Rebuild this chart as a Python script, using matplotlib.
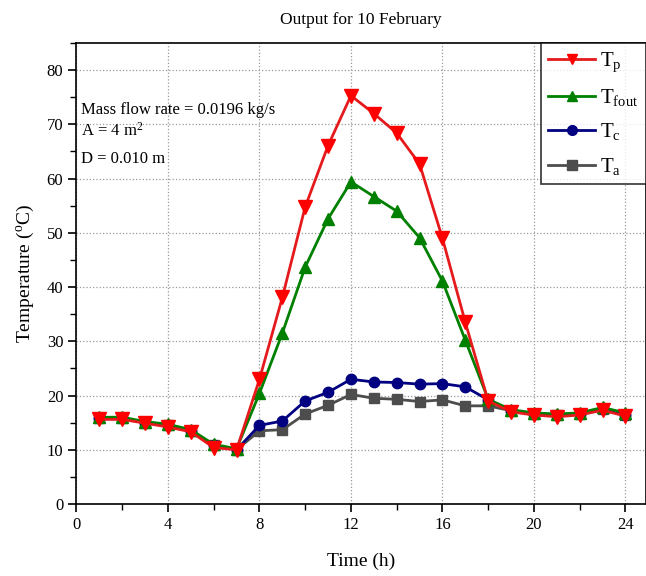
import matplotlib
matplotlib.use("Agg")
import matplotlib.pyplot as plt
from matplotlib.ticker import MultipleLocator

plt.rcParams['font.family'] = ['Liberation Serif', 'DejaVu Serif']
plt.rcParams['mathtext.fontset'] = 'custom'
plt.rcParams['mathtext.rm'] = 'Liberation Serif'
plt.rcParams['mathtext.it'] = 'Liberation Serif'

###############################################

hours = list(range(1, 25))

t_p = [15.6, 15.6, 14.9, 14.2, 13.3, 10.4, 10.0, 23.0, 38.1, 54.8, 66.1, 75.3,
       72.0, 68.4, 62.7, 49.0, 33.5, 19.0, 17.0, 16.4, 16.1, 16.4, 17.3, 16.2]
t_fout = [16.0, 16.0, 15.2, 14.7, 13.7, 11.0, 10.2, 20.4, 31.5, 43.7, 52.6, 59.4,
          56.7, 54.0, 49.1, 41.1, 30.2, 19.3, 17.4, 16.8, 16.6, 16.8, 17.8, 16.8]
t_c = [15.8, 15.8, 15.0, 14.5, 13.5, 10.8, 10.0, 14.5, 15.3, 19.0, 20.6, 23.0,
       22.5, 22.4, 22.1, 22.2, 21.6, 19.2, 17.2, 16.6, 16.4, 16.6, 17.6, 16.5]
t_a = [15.8, 15.8, 15.0, 14.5, 13.5, 10.8, 10.0, 13.5, 13.7, 16.6, 18.2, 20.2,
       19.5, 19.3, 18.9, 19.2, 18.1, 18.1, 17.2, 16.6, 16.4, 16.6, 17.6, 16.5]

###############################################

fig = plt.figure(figsize=(6.46, 5.76), dpi=100)
ax = fig.add_axes([0.1184, 0.125, 0.8816, 0.8003])

ax.plot(hours, t_a, color="#4d4d4d", marker="s", markersize=7, lw=2, label=r"T$_\mathregular{a}$", zorder=3)
ax.plot(hours, t_c, color="#000080", marker="o", markersize=7.5, lw=2, label=r"T$_\mathregular{c}$", zorder=4)
ax.plot(hours, t_fout, color="#008000", marker="^", markersize=9, lw=2, label=r"T$_\mathregular{fout}$", zorder=5)
ax.plot(hours, t_p, color="#e41a1c", marker="v", markersize=9.5, lw=2, mfc="#ff0000", mec="#ff0000",
        label=r"T$_\mathregular{p}$", zorder=6)

ax.set_xlim(0, 24.9)
ax.set_ylim(0, 85)
ax.xaxis.set_major_locator(MultipleLocator(4))
ax.xaxis.set_minor_locator(MultipleLocator(2))
ax.yaxis.set_major_locator(MultipleLocator(10))
ax.yaxis.set_minor_locator(MultipleLocator(5))
ax.tick_params(which="major", direction="out", length=6, width=1.2, labelsize=12)
ax.tick_params(which="minor", direction="out", length=4, width=1)
ax.grid(True, which="major", color="#999999", linestyle=":", linewidth=0.9)
ax.set_axisbelow(True)
for s in ax.spines.values():
    s.set_linewidth(1.2)

ax.set_xlabel("Time (h)", fontsize=14, labelpad=14)
ax.set_ylabel(r"Temperature ($^\mathregular{o}$C)", fontsize=14, labelpad=8)
ax.set_title("Output for 10 February", fontsize=12.5, pad=14)

ax.text(0.2, 72.6, "Mass flow rate = 0.0196 kg/s", fontsize=12, va="center")
ax.text(0.2, 68.8, r"A = 4 m$^\mathregular{2}$", fontsize=12, va="center")
ax.text(0.2, 63.6, "D = 0.010 m", fontsize=12, va="center")

handles, labels = ax.get_legend_handles_labels()
leg = ax.legend(handles[::-1], labels[::-1], loc="upper right", bbox_to_anchor=(1.0, 1.0),
                fontsize=15, frameon=True, fancybox=False, edgecolor="black",
                borderaxespad=0, handlelength=2.25, labelspacing=0.64, borderpad=0.35,
                handletextpad=0.25)
leg.get_frame().set_linewidth(1.2)
for h in leg.legend_handles:
    h.set_markersize(7)

fig.savefig("out.png", dpi=100)
